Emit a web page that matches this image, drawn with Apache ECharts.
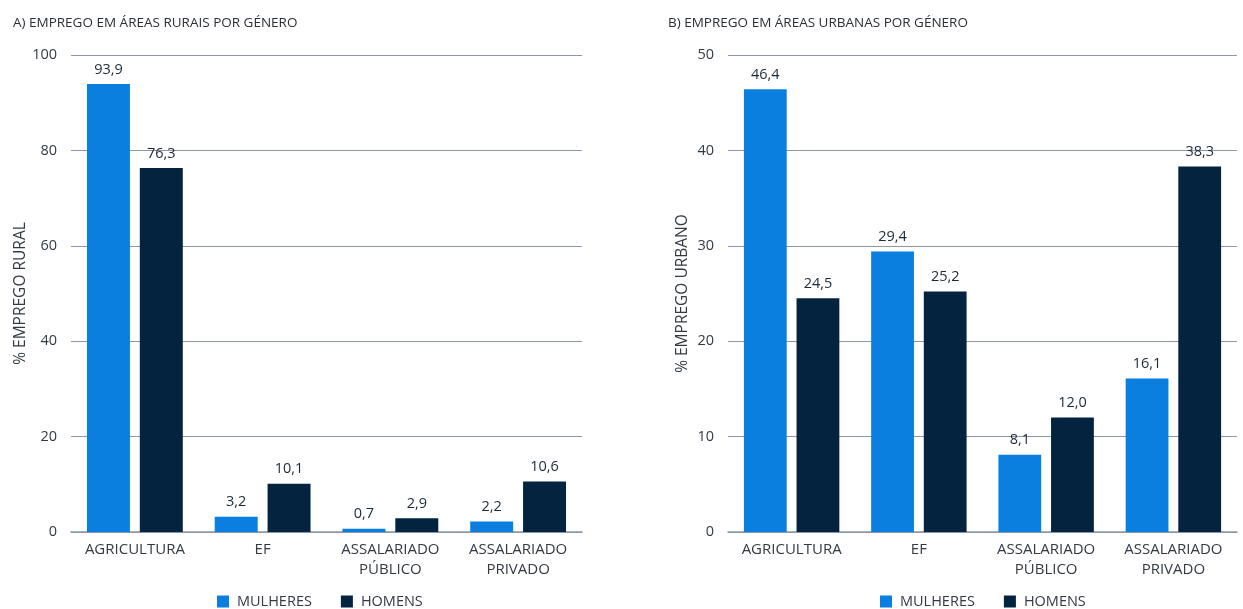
<!DOCTYPE html>
<html>
<head>
<meta charset="utf-8">
<script src="https://cdn.jsdelivr.net/npm/echarts@6/dist/echarts.min.js"></script>
<style>
  html, body { margin: 0; padding: 0; background: #fff; }
  #chart { width: 1243px; height: 609px; }
</style>
</head>
<body>
<div id="chart"></div>
<script>
// Categories shared by both panels
const categories = ['AGRICULTURA', 'EF', 'ASSALARIADO\nPÚBLICO', 'ASSALARIADO\nPRIVADO'];
const seriesNames = ['MULHERES', 'HOMENS'];

// Panel A: rural employment (%)
const ruralMulheres = [93.9, 3.2, 0.7, 2.2];
const ruralHomens = [76.3, 10.1, 2.9, 10.6];

// Panel B: urban employment (%)
const urbanoMulheres = [46.4, 29.4, 8.1, 16.1];
const urbanoHomens = [24.5, 25.2, 12.0, 38.3];

// Axis ranges
const ruralTicks = { min: 0, max: 100, interval: 20 };
const urbanoTicks = { min: 0, max: 50, interval: 10 };

const FONT = '"Open Sans", "Noto Sans", sans-serif';
const BLUE = '#0a7fe0';
const NAVY = '#03233f';
const GRID_LINE = '#8d97aa';
const TEXT = '#333a44';

const fmt = v => v.toFixed(1).replace('.', ',');

const valueLabel = {
  show: true,
  position: 'top',
  distance: 7,
  fontFamily: FONT,
  fontSize: 14.5,
  fontWeight: 500,
  color: '#1d2a38',
  formatter: p => fmt(p.value)
};

function xAxisFor(gridIndex) {
  return {
    type: 'category',
    gridIndex,
    data: categories,
    axisLine: { lineStyle: { color: GRID_LINE, width: 1.5 } },
    axisTick: { show: false },
    axisLabel: { fontFamily: FONT, fontSize: 15, color: TEXT, margin: 8, lineHeight: 20, interval: 0 }
  };
}

function yAxisFor(gridIndex, ticks, name) {
  return {
    type: 'value',
    gridIndex,
    min: ticks.min,
    max: ticks.max,
    interval: ticks.interval,
    name,
    nameLocation: 'middle',
    nameGap: 37,
    nameTextStyle: { fontFamily: FONT, fontSize: 15.5, color: TEXT },
    axisLine: { show: false },
    axisTick: { show: false },
    axisLabel: { fontFamily: FONT, fontSize: 14.5, color: TEXT, margin: 14 },
    splitLine: { lineStyle: { color: GRID_LINE, width: 1 } }
  };
}

function barSeries(name, data, color, idx) {
  return {
    name,
    type: 'bar',
    xAxisIndex: idx,
    yAxisIndex: idx,
    data,
    barGap: '23%',
    barCategoryGap: '25%',
    itemStyle: { color },
    label: valueLabel
  };
}

function legendAt(left) {
  return {
    data: seriesNames, left, top: 594, padding: 0,
    itemWidth: 12, itemHeight: 12, itemGap: 29, icon: 'rect',
    textStyle: { fontFamily: FONT, fontSize: 14.5, color: TEXT, padding: [0, 0, 0, 3] }
  };
}

const chart = echarts.init(document.getElementById('chart'), null, { renderer: 'canvas' });

chart.setOption({
  animation: false,
  title: [
    { text: 'A) EMPREGO EM ÁREAS RURAIS POR GÉNERO', left: 8, top: 11,
      textStyle: { fontFamily: FONT, fontSize: 13.5, fontWeight: 'normal', color: '#2b2f36' } },
    { text: 'B) EMPREGO EM ÁREAS URBANAS POR GÉNERO', left: 663, top: 11,
      textStyle: { fontFamily: FONT, fontSize: 13.5, fontWeight: 'normal', color: '#2b2f36' } }
  ],
  legend: [legendAt(217), legendAt(880)],
  grid: [
    { left: 71, right: 661, top: 55, bottom: 77 },
    { left: 728, right: 6, top: 55, bottom: 77 }
  ],
  xAxis: [xAxisFor(0), xAxisFor(1)],
  yAxis: [
    yAxisFor(0, ruralTicks, '% EMPREGO RURAL'),
    yAxisFor(1, urbanoTicks, '% EMPREGO URBANO')
  ],
  series: [
    barSeries(seriesNames[0], ruralMulheres, BLUE, 0),
    barSeries(seriesNames[1], ruralHomens, NAVY, 0),
    barSeries(seriesNames[0], urbanoMulheres, BLUE, 1),
    barSeries(seriesNames[1], urbanoHomens, NAVY, 1)
  ]
});
</script>
</body>
</html>
